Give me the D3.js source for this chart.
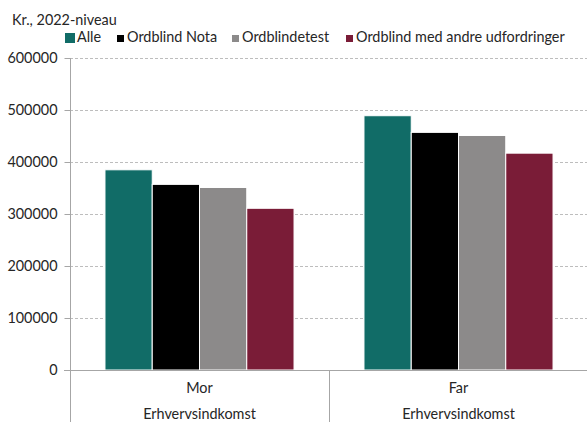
<!DOCTYPE html>
<html>
<head>
<meta charset="utf-8">
<script src="https://cdn.jsdelivr.net/npm/d3@7"></script>
<style>
  html, body { margin: 0; padding: 0; background: #fff; }
  svg { display: block; font-family: Lato, "Open Sans", sans-serif; }
</style>
</head>
<body>
<svg id="chart" width="587" height="422"></svg>
<script>
const categories = ["Mor", "Far"];
const subLabels = ["Erhvervsindkomst", "Erhvervsindkomst"];
const seriesNames = ["Alle", "Ordblind Nota", "Ordblindetest", "Ordblind med andre udfordringer"];
const seriesColors = ["#116c67", "#000000", "#8c8a8a", "#7a1c37"];
const alle = [385000, 489000];
const ordblindNota = [357000, 457000];
const ordblindetest = [351000, 451000];
const ordblindAndre = [311000, 417000];
const yTicks = [0, 100000, 200000, 300000, 400000, 500000, 600000];
const yTitle = "Kr., 2022-niveau";

const seriesValues = [alle, ordblindNota, ordblindetest, ordblindAndre];

const svg = d3.select("#chart");
const mLeft = 70, mRight = 588, mTop = 58, mBottom = 370;
const fs = "14.4px";

const x0 = d3.scaleBand().domain(categories).range([mLeft, mRight]).paddingInner(0).paddingOuter(0);
const x1 = d3.scaleBand().domain(seriesNames).range([0, x0.bandwidth()]).paddingInner(0).paddingOuter(0.74);
const y = d3.scaleLinear().domain([0, 600000]).range([mBottom, mTop]);

// gridlines
svg.append("g").selectAll("line").data(yTicks.filter(d => d > 0)).join("line")
  .attr("x1", mLeft).attr("x2", 587)
  .attr("y1", d => y(d) + 0.5).attr("y2", d => y(d) + 0.5)
  .attr("stroke", "#bdbdbd").attr("stroke-width", 1).attr("stroke-dasharray", "3,2");

// y axis
const yAxis = d3.axisLeft(y).tickValues(yTicks).tickSize(6).tickPadding(7).tickFormat(d3.format("d"));
const gy = svg.append("g").attr("transform", `translate(${mLeft + 0.5},0)`).call(yAxis);
gy.select(".domain").remove();
gy.selectAll(".tick line").attr("stroke", "#a6a6a6");
gy.selectAll(".tick text").attr("fill", "#262626").style("font-size", fs).style("font-family", "Lato, sans-serif");

// bars
const groups = svg.append("g").selectAll("g").data(categories).join("g")
  .attr("transform", d => `translate(${x0(d)},0)`);
groups.selectAll("rect").data((c, ci) => seriesNames.map((s, si) => ({ s, si, v: seriesValues[si][ci] }))).join("rect")
  .attr("x", d => x1(d.s))
  .attr("width", x1.bandwidth())
  .attr("y", d => y(d.v))
  .attr("height", d => y(0) - y(d.v))
  .attr("fill", d => seriesColors[d.si])
  .attr("stroke", "#ffffff").attr("stroke-width", 1);

// axis lines
svg.append("line").attr("x1", mLeft + 0.5).attr("x2", mLeft + 0.5).attr("y1", mTop).attr("y2", 422)
  .attr("stroke", "#a6a6a6");
svg.append("line").attr("x1", 64).attr("x2", 587).attr("y1", mBottom + 0.5).attr("y2", mBottom + 0.5)
  .attr("stroke", "#a6a6a6");
// category separators
categories.slice(1).forEach(c => {
  svg.append("line").attr("x1", x0(c) + 0.5).attr("x2", x0(c) + 0.5).attr("y1", mBottom).attr("y2", 422)
    .attr("stroke", "#a6a6a6");
});

// category labels
svg.append("g").selectAll("text").data(categories).join("text")
  .attr("x", d => x0(d) + x0.bandwidth() / 2).attr("y", 393)
  .attr("text-anchor", "middle").attr("fill", "#262626").style("font-size", fs)
  .text(d => d);
svg.append("g").selectAll("text").data(subLabels).join("text")
  .attr("x", (d, i) => x0(categories[i]) + x0.bandwidth() / 2).attr("y", 419)
  .attr("text-anchor", "middle").attr("fill", "#262626").style("font-size", fs)
  .text(d => d);

// title
svg.append("text").attr("x", 12).attr("y", 25).attr("fill", "#262626").style("font-size", fs).text(yTitle);

// legend
const legendX = [65, 117, 232, 346];
const lg = svg.append("g").selectAll("g").data(seriesNames).join("g")
  .attr("transform", (d, i) => `translate(${legendX[i]},0)`);
lg.append("rect").attr("x", 0).attr("y", 33).attr("width", (d, i) => i === 0 ? 10 : 7).attr("height", (d, i) => i === 0 ? 10 : 7)
  .attr("transform", (d, i) => i === 0 ? "" : "translate(0,2)")
  .attr("fill", (d, i) => seriesColors[i]);
lg.append("text").attr("x", (d, i) => i === 0 ? 12 : 10).attr("y", 42).attr("fill", "#262626").style("font-size", fs).text(d => d);
</script>
</body>
</html>
